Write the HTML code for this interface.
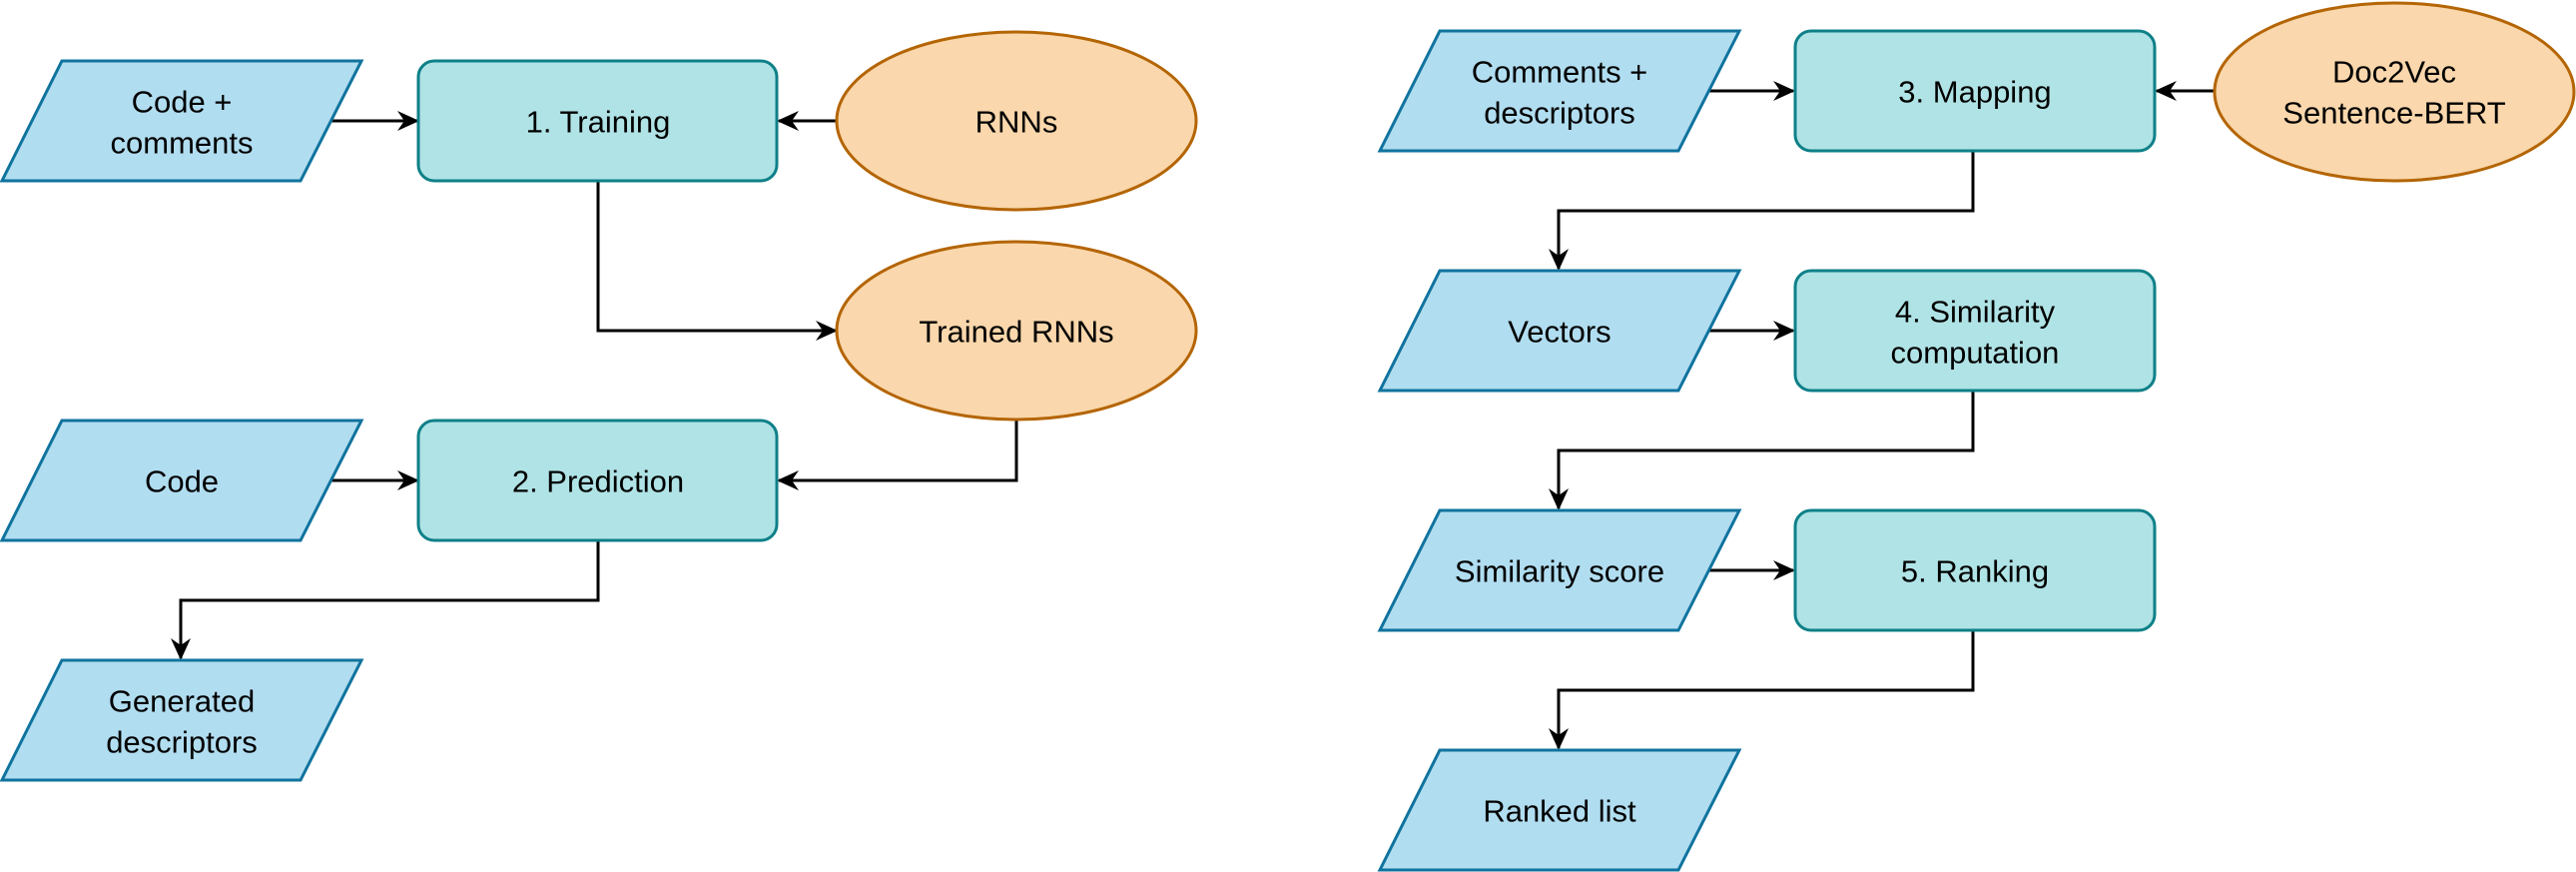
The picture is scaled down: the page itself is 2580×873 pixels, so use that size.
<!DOCTYPE html>
<html><head><meta charset="utf-8"><style>html,body{margin:0;padding:0;background:#fff}svg{display:block}</style></head>
<body>
<svg width="2580" height="873" viewBox="0 0 2580 873" xmlns="http://www.w3.org/2000/svg">
<defs>
<marker id="a" markerWidth="22" markerHeight="20" refX="20" refY="10" orient="auto" markerUnits="userSpaceOnUse" viewBox="0 0 22 20"><path d="M0,0 L22,10 L0,20 L7,10 Z" fill="#000"/></marker>
</defs>
<g fill="none" stroke="#000" stroke-width="3" marker-end="url(#a)">
<path d="M332,121 H418"/>
<path d="M839,121 H780"/>
<path d="M599,181 V331 H837"/>
<path d="M332,481 H418"/>
<path d="M1018,421 V481 H780"/>
<path d="M599,541 V601 H181 V659"/>
<path d="M1712,91 H1796"/>
<path d="M2219,91 H2160"/>
<path d="M1976,151 V211 H1561 V269"/>
<path d="M1712,331 H1796"/>
<path d="M1976,391 V451 H1561 V509"/>
<path d="M1712,571 H1796"/>
<path d="M1976,631 V691 H1561 V749"/>
</g>
<g fill="#b1ddf0" stroke="#10739e" stroke-width="3">
<polygon points="62,61 362,61 301,181 2,181"/>
<polygon points="62,421 362,421 301,541 2,541"/>
<polygon points="62,661 362,661 301,781 2,781"/>
<polygon points="1442,31 1742,31 1681,151 1382,151"/>
<polygon points="1442,271 1742,271 1681,391 1382,391"/>
<polygon points="1442,511 1742,511 1681,631 1382,631"/>
<polygon points="1442,751 1742,751 1681,871 1382,871"/>
</g>
<g fill="#b0e3e6" stroke="#0e8088" stroke-width="3">
<rect x="419" y="61" width="359" height="120" rx="16"/>
<rect x="419" y="421" width="359" height="120" rx="16"/>
<rect x="1798" y="31" width="360" height="120" rx="16"/>
<rect x="1798" y="271" width="360" height="120" rx="16"/>
<rect x="1798" y="511" width="360" height="120" rx="16"/>
</g>
<g fill="#fad7ac" stroke="#b46504" stroke-width="3">
<ellipse cx="1018" cy="121" rx="180" ry="89"/>
<ellipse cx="1018" cy="331" rx="180" ry="89"/>
<ellipse cx="2398" cy="92" rx="180" ry="89"/>
</g>
<g font-family="Liberation Sans, Arial, sans-serif" font-size="31" fill="#000" text-anchor="middle" dominant-baseline="central">
<text x="182" y="102">Code +</text><text x="182" y="143">comments</text>
<text x="599" y="122">1. Training</text>
<text x="1018" y="122">RNNs</text>
<text x="1018" y="332">Trained RNNs</text>
<text x="182" y="482">Code</text>
<text x="599" y="482">2. Prediction</text>
<text x="182" y="702">Generated</text><text x="182" y="743">descriptors</text>
<text x="1562" y="72">Comments +</text><text x="1562" y="113">descriptors</text>
<text x="1978" y="92">3. Mapping</text>
<text x="2398" y="72">Doc2Vec</text><text x="2398" y="113">Sentence-BERT</text>
<text x="1562" y="332">Vectors</text>
<text x="1978" y="312">4. Similarity</text><text x="1978" y="353">computation</text>
<text x="1562" y="572">Similarity score</text>
<text x="1978" y="572">5. Ranking</text>
<text x="1562" y="812">Ranked list</text>
</g>
</svg>
</body></html>
